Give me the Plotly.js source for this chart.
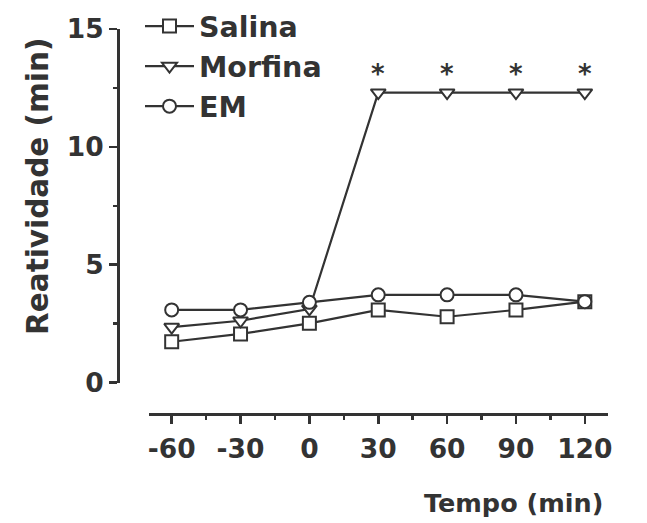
<!DOCTYPE html>
<html>
<head>
<meta charset="utf-8">
<script src="https://cdn.plot.ly/plotly-3.0.1.min.js"></script>
<style>html,body{margin:0;padding:0;background:#fff;}#chart{width:647px;height:523px;}</style>
</head>
<body>
<div id="chart"></div>
<script>
const tempo = [-60, -30, 0, 30, 60, 90, 120];
const salina = [1.73, 2.06, 2.51, 3.08, 2.79, 3.08, 3.43];
const morfina = [2.35, 2.62, 3.12, 12.3, 12.3, 12.3, 12.3];
const em = [3.08, 3.08, 3.4, 3.72, 3.72, 3.72, 3.43];
const sigX = [30, 60, 90, 120];
const sigLabel = "*";
const tickVals = [-60, -30, 0, 30, 60, 90, 120];
const tickText = ["-60", "-30", "0", "30", "60", "90", "120"];

const ink = "#333333";
const fontFam = "DejaVu Sans, Liberation Sans, Arial, sans-serif";

function trace(name, y, symbol) {
  return {
    x: tempo, y: y, name: name, type: "scatter", mode: "lines+markers",
    line: {color: ink, width: 2.2},
    marker: {symbol: symbol, size: 13, color: "#ffffff", line: {color: ink, width: 2}}
  };
}

const data = [
  trace("Salina", salina, "square"),
  trace("Morfina", morfina, "triangle-down"),
  trace("EM", em, "circle")
];

const annotations = sigX.map(x => ({
  x: x, y: 13.1, xref: "x", yref: "y", text: sigLabel, showarrow: false,
  font: {family: fontFam, size: 26, color: ink, weight: "bold"}
}));
annotations.push({
  text: "Reatividade (min)", xref: "paper", yref: "paper",
  x: (38 - 118) / 490, y: (414 - 187) / 385, textangle: -90, showarrow: false,
  xanchor: "center", yanchor: "middle",
  font: {family: fontFam, size: 29.5, color: ink, weight: "bold"}
});
annotations.push({
  text: "Tempo (min)", xref: "paper", yref: "paper",
  x: (513 - 118) / 490, y: -(503 - 414) / 385, showarrow: false,
  xanchor: "center", yanchor: "middle",
  font: {family: fontFam, size: 25.5, color: ink, weight: "bold"}
});

const layout = {
  width: 647, height: 523,
  margin: {l: 118, r: 39, t: 29, b: 109, autoexpand: false},
  paper_bgcolor: "#ffffff", plot_bgcolor: "#ffffff",
  showlegend: true,
  legend: {
    x: (140 - 118) / 490, y: 1 + (29 - 1) / 385, xanchor: "left", yanchor: "top",
    bgcolor: "rgba(0,0,0,0)", tracegroupgap: 0, itemwidth: 49,
    font: {family: fontFam, size: 28.5, color: ink, weight: "bold"}
  },
  xaxis: {
    anchor: "free", position: 0, domain: [(149.3 - 118) / 490, 1],
    range: [-69.75, 130.1], tickvals: tickVals, ticktext: tickText,
    showgrid: false, zeroline: false, showline: true, linecolor: ink, linewidth: 3,
    ticks: "outside", ticklen: 8, tickwidth: 2.5, tickcolor: ink,
    ticklabelstandoff: 2,
    minor: {dtick: 15, tick0: -60, ticks: "outside", ticklen: 4, tickwidth: 2.5, tickcolor: ink, showgrid: false},
    tickfont: {family: fontFam, size: 26.5, color: ink, weight: "bold"}
  },
  yaxis: {
    anchor: "free", position: 0, domain: [(414 - 382.5) / 385, 1],
    range: [0, 15], tickvals: [0, 5, 10, 15],
    showgrid: false, zeroline: false, showline: true, linecolor: ink, linewidth: 3,
    ticks: "outside", ticklen: 8, tickwidth: 2.5, tickcolor: ink,
    minor: {dtick: 2.5, ticks: "outside", ticklen: 4, tickwidth: 2.5, tickcolor: ink, showgrid: false},
    tickfont: {family: fontFam, size: 26.5, color: ink, weight: "bold"}
  },
  annotations: annotations
};

Plotly.newPlot("chart", data, layout, {displayModeBar: false, staticPlot: true});
</script>
</body>
</html>
